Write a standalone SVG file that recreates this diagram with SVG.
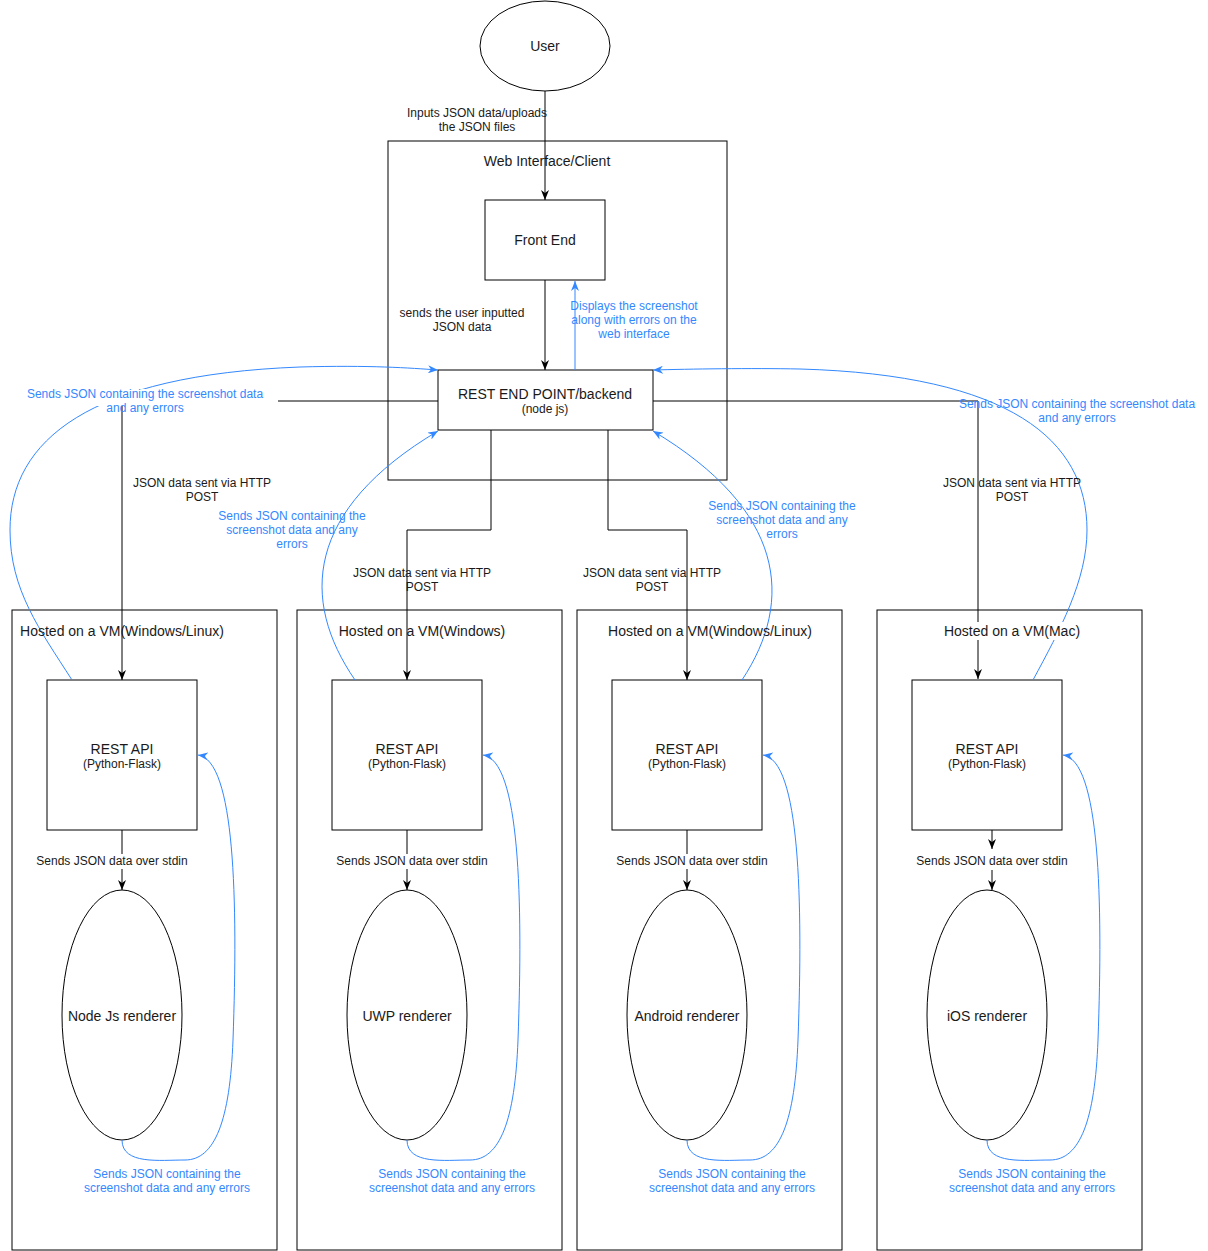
<svg xmlns="http://www.w3.org/2000/svg" width="1208" height="1251" viewBox="0 0 1208 1251">
  <style>
    .shape { fill: #ffffff; stroke: #000000; stroke-width: 1; }
    .edge { fill: none; stroke: #000000; stroke-width: 1; }
    .reply { fill: none; stroke: #3388ff; stroke-width: 1; }
    text { font-family: "Liberation Sans", Arial, Helvetica, sans-serif; text-anchor: middle; fill: #1a1a1a; }
    .t14 { font-size: 14px; }
    .t12 { font-size: 12px; }
    .blue { fill: #3388ff; }
    .bg { fill: #ffffff; stroke: none; }
  </style>
  <defs>
    <marker id="arrow" viewBox="0 0 10 8" refX="10" refY="4" markerWidth="10" markerHeight="8" markerUnits="userSpaceOnUse" orient="auto">
      <path d="M0,0 L10,4 L0,8 L3,4 z" fill="#000000"/>
    </marker>
    <marker id="arrow-blue" viewBox="0 0 10 8" refX="10" refY="4" markerWidth="10" markerHeight="8" markerUnits="userSpaceOnUse" orient="auto">
      <path d="M0,0 L10,4 L0,8 L3,4 z" fill="#3388ff"/>
    </marker>
  </defs>
  <rect width="1208" height="1251" fill="#ffffff"/>

  <!-- containers -->
  <g id="web-client">
    <rect class="shape" x="388" y="141" width="339" height="339"/>
    <text class="t14" x="547" y="166">Web Interface/Client</text>
  </g>
  <g id="vm-1">
    <rect class="shape" x="12" y="610" width="265" height="640"/>
  </g>
  <g id="vm-2">
    <rect class="shape" x="297" y="610" width="265" height="640"/>
  </g>
  <g id="vm-3">
    <rect class="shape" x="577" y="610" width="265" height="640"/>
  </g>
  <g id="vm-4">
    <rect class="shape" x="877" y="610" width="265" height="640"/>
  </g>

  <!-- nodes -->
  <g id="user">
    <ellipse class="shape" cx="545" cy="46" rx="65" ry="45"/>
    <text class="t14" x="545" y="51">User</text>
  </g>
  <g id="front-end">
    <rect class="shape" x="485" y="200" width="120" height="80"/>
    <text class="t14" x="545" y="245">Front End</text>
  </g>
  <g id="rest-endpoint">
    <rect class="shape" x="438" y="370" width="215" height="60"/>
    <text class="t14" x="545" y="399">REST END POINT/backend</text>
    <text class="t12" x="545" y="413">(node js)</text>
  </g>
  <g id="api-1">
    <rect class="shape" x="47" y="680" width="150" height="150"/>
    <text class="t14" x="122" y="754">REST API</text>
    <text class="t12" x="122" y="768">(Python-Flask)</text>
  </g>
  <g id="api-2">
    <rect class="shape" x="332" y="680" width="150" height="150"/>
    <text class="t14" x="407" y="754">REST API</text>
    <text class="t12" x="407" y="768">(Python-Flask)</text>
  </g>
  <g id="api-3">
    <rect class="shape" x="612" y="680" width="150" height="150"/>
    <text class="t14" x="687" y="754">REST API</text>
    <text class="t12" x="687" y="768">(Python-Flask)</text>
  </g>
  <g id="api-4">
    <rect class="shape" x="912" y="680" width="150" height="150"/>
    <text class="t14" x="987" y="754">REST API</text>
    <text class="t12" x="987" y="768">(Python-Flask)</text>
  </g>
  <g id="renderer-node">
    <ellipse class="shape" cx="122" cy="1015" rx="60" ry="125"/>
    <text class="t14" x="122" y="1021">Node Js renderer</text>
  </g>
  <g id="renderer-uwp">
    <ellipse class="shape" cx="407" cy="1015" rx="60" ry="125"/>
    <text class="t14" x="407" y="1021">UWP renderer</text>
  </g>
  <g id="renderer-android">
    <ellipse class="shape" cx="687" cy="1015" rx="60" ry="125"/>
    <text class="t14" x="687" y="1021">Android renderer</text>
  </g>
  <g id="renderer-ios">
    <ellipse class="shape" cx="987" cy="1015" rx="60" ry="125"/>
    <text class="t14" x="987" y="1021">iOS renderer</text>
  </g>

  <!-- connectors -->
  <g id="connectors">
    <!-- requests -->
    <path class="edge" d="M545,91 V200" marker-end="url(#arrow)"/>
    <path class="edge" d="M545,280 V370" marker-end="url(#arrow)"/>
    <path class="edge" d="M438,401 H122 V680" marker-end="url(#arrow)"/>
    <path class="edge" d="M491,430 V530 H407 V680" marker-end="url(#arrow)"/>
    <path class="edge" d="M608,430 V530 H687 V680" marker-end="url(#arrow)"/>
    <path class="edge" d="M653,401 H978 V679" marker-end="url(#arrow)"/>
    <path class="edge" d="M122,830 V890" marker-end="url(#arrow)"/>
    <path class="edge" d="M407,830 V890" marker-end="url(#arrow)"/>
    <path class="edge" d="M687,830 V890" marker-end="url(#arrow)"/>
    <path class="edge" d="M992,830 V849" marker-end="url(#arrow)"/>
    <path class="edge" d="M992,870 V890" marker-end="url(#arrow)"/>

    <!-- responses -->
    <path class="reply" d="M575,370 V281" marker-end="url(#arrow-blue)"/>
    <path class="reply" d="M72,680 C40,630 10,590 10,530 C10,440 90,375 300,367 C370,365 410,368 438,370" marker-end="url(#arrow-blue)"/>
    <path class="reply" d="M355,680 C300,600 305,510 438,431" marker-end="url(#arrow-blue)"/>
    <path class="reply" d="M742,680 C795,600 785,510 653,431" marker-end="url(#arrow-blue)"/>
    <path class="reply" d="M1033,680 C1060,630 1087,580 1087,530 C1087,440 1010,375 800,369 C750,368 690,369 653,370" marker-end="url(#arrow-blue)"/>
    <path class="reply" d="M122,1140 C122,1165 160,1160 185,1160 C215,1160 230,1120 233,1040 C238,900 235,760 198,755" marker-end="url(#arrow-blue)"/>
    <path class="reply" d="M407,1140 C407,1165 445,1160 470,1160 C500,1160 515,1120 518,1040 C523,900 520,760 483,755" marker-end="url(#arrow-blue)"/>
    <path class="reply" d="M687,1140 C687,1165 725,1160 750,1160 C780,1160 795,1120 798,1040 C803,900 800,760 763,755" marker-end="url(#arrow-blue)"/>
    <path class="reply" d="M987,1140 C987,1165 1025,1160 1050,1160 C1080,1160 1095,1120 1098,1040 C1103,900 1100,760 1063,755" marker-end="url(#arrow-blue)"/>
  </g>

  <!-- connector labels -->
  <g id="labels">
    <text class="t12" x="477" y="117">Inputs JSON data/uploads</text>
    <text class="t12" x="477" y="131">the JSON files</text>

    <text class="t12" x="462" y="317">sends the user inputted</text>
    <text class="t12" x="462" y="331">JSON data</text>

    <text class="t12 blue" x="634" y="310">Displays the screenshot</text>
    <text class="t12 blue" x="634" y="324">along with errors on the</text>
    <text class="t12 blue" x="634" y="338">web interface</text>

    <rect class="bg" x="26" y="389" width="252" height="17"/>
    <text class="t12 blue" x="145" y="398">Sends JSON containing the screenshot data</text>
    <text class="t12 blue" x="145" y="412">and any errors</text>

    <text class="t12 blue" x="1077" y="408">Sends JSON containing the screenshot data</text>
    <text class="t12 blue" x="1077" y="422">and any errors</text>

    <text class="t12" x="202" y="487">JSON data sent via HTTP</text>
    <text class="t12" x="202" y="501">POST</text>
    <text class="t12" x="1012" y="487">JSON data sent via HTTP</text>
    <text class="t12" x="1012" y="501">POST</text>

    <text class="t12 blue" x="292" y="520">Sends JSON containing the</text>
    <text class="t12 blue" x="292" y="534">screenshot data and any</text>
    <text class="t12 blue" x="292" y="548">errors</text>

    <text class="t12 blue" x="782" y="510">Sends JSON containing the</text>
    <text class="t12 blue" x="782" y="524">screenshot data and any</text>
    <text class="t12 blue" x="782" y="538">errors</text>

    <text class="t12" x="422" y="577">JSON data sent via HTTP</text>
    <text class="t12" x="422" y="591">POST</text>
    <text class="t12" x="652" y="577">JSON data sent via HTTP</text>
    <text class="t12" x="652" y="591">POST</text>

    <text class="t14" x="122" y="636">Hosted on a VM(Windows/Linux)</text>
    <text class="t14" x="422" y="636">Hosted on a VM(Windows)</text>
    <text class="t14" x="710" y="636">Hosted on a VM(Windows/Linux)</text>
    <rect class="bg" x="943" y="622" width="138" height="18"/>
    <text class="t14" x="1012" y="636">Hosted on a VM(Mac)</text>

    <rect class="bg" x="36" y="854" width="152" height="15"/>
    <text class="t12" x="112" y="865">Sends JSON data over stdin</text>
    <rect class="bg" x="336" y="854" width="152" height="15"/>
    <text class="t12" x="412" y="865">Sends JSON data over stdin</text>
    <rect class="bg" x="616" y="854" width="152" height="15"/>
    <text class="t12" x="692" y="865">Sends JSON data over stdin</text>
    <rect class="bg" x="916" y="854" width="152" height="15"/>
    <text class="t12" x="992" y="865">Sends JSON data over stdin</text>

    <text class="t12 blue" x="167" y="1178">Sends JSON containing the</text>
    <text class="t12 blue" x="167" y="1192">screenshot data and any errors</text>
    <text class="t12 blue" x="452" y="1178">Sends JSON containing the</text>
    <text class="t12 blue" x="452" y="1192">screenshot data and any errors</text>
    <text class="t12 blue" x="732" y="1178">Sends JSON containing the</text>
    <text class="t12 blue" x="732" y="1192">screenshot data and any errors</text>
    <text class="t12 blue" x="1032" y="1178">Sends JSON containing the</text>
    <text class="t12 blue" x="1032" y="1192">screenshot data and any errors</text>
  </g>
</svg>
